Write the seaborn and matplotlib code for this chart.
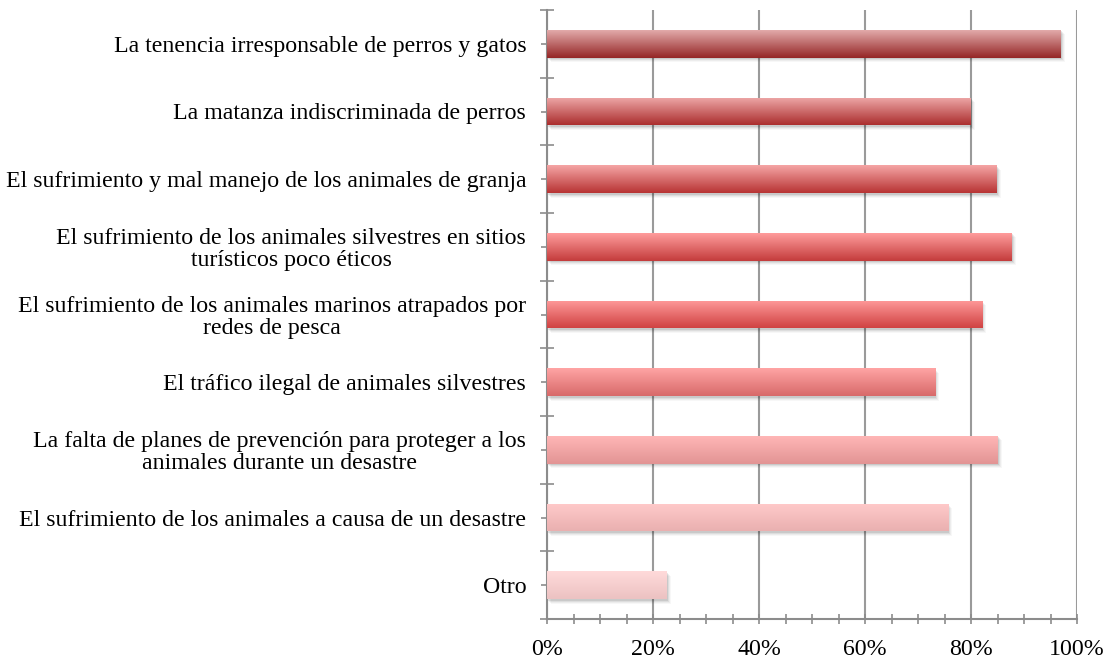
import numpy as np
import pandas as pd
import seaborn as sns
import matplotlib
matplotlib.use("Agg")
import matplotlib.pyplot as plt
from matplotlib import transforms
from matplotlib.colors import to_rgb
from matplotlib.ticker import MultipleLocator, FuncFormatter

# Data
categories = [
    "La tenencia irresponsable de perros y gatos",
    "La matanza indiscriminada de perros",
    "El sufrimiento y mal manejo de los animales de granja",
    "El sufrimiento de los animales silvestres en sitios\nturísticos poco éticos",
    "El sufrimiento de los animales marinos atrapados por\nredes de pesca",
    "El tráfico ilegal de animales silvestres",
    "La falta de planes de prevención para proteger a los\nanimales durante un desastre",
    "El sufrimiento de los animales a causa de un desastre",
    "Otro",
]
percentages = [96.9, 80.0, 84.9, 87.7, 82.1, 73.3, 85.0, 75.7, 22.6]

# Gradient colours for each bar (top edge, bottom edge)
top_colors = ["#e2aaaa", "#eea8a8", "#f5a5a5", "#ff9c9c", "#ff9a9a",
              "#ffa4a4", "#ffb6b6", "#ffcaca", "#ffdada"]
bottom_colors = ["#952626", "#ab2e2e", "#b83434", "#c43c3c", "#d04242",
                 "#d86a6a", "#e29494", "#eab0b0", "#ecc2c2"]

df = pd.DataFrame({"categoria": categories, "porcentaje": percentages})

sns.set_style("white")
plt.rcParams["font.family"] = ["Liberation Serif", "DejaVu Serif"]
label_size = 17.2

fig = plt.figure(figsize=(11.11, 6.64), dpi=100)
ax = fig.add_axes([547 / 1111, 45 / 664, 530 / 1111, 609 / 664])

sns.barplot(data=df, y="categoria", x="porcentaje", orient="h",
            width=0.41, color="white", ax=ax, zorder=3)

ax.set_xlim(0, 100)
ax.set_ylim(len(categories) - 0.5, -0.5)
xlim, ylim = ax.get_xlim(), ax.get_ylim()

# Replace the flat fill with a vertical gradient and a soft drop shadow
for i, patch in enumerate(list(ax.patches)):
    x0, y0 = patch.get_x(), patch.get_y()
    w, h = patch.get_width(), patch.get_height()
    for k, a in enumerate([0.09, 0.06, 0.045, 0.03]):
        off = transforms.offset_copy(ax.transData, fig=fig,
                                     x=(1.0 + k) * 0.72, y=-(1.5 + k) * 0.72,
                                     units="points")
        sh = plt.Rectangle((x0, y0), w, h, transform=off, facecolor="black",
                           alpha=a, edgecolor="none", zorder=2)
        ax.add_patch(sh)
    c_top = np.array(to_rgb(top_colors[i]))
    c_bot = np.array(to_rgb(bottom_colors[i]))
    t = np.linspace(0, 1, 64)[:, None]
    grad = (c_top[None, :] * (1 - t) + c_bot[None, :] * t)[:, None, :]
    im = ax.imshow(grad, extent=(x0, x0 + w, y0 + h, y0), origin="upper",
                   aspect="auto", interpolation="bilinear", zorder=4)
    im.set_clip_path(patch)
    patch.set_edgecolor("none")

ax.set_xlim(xlim)
ax.set_ylim(ylim)

# Axes styling
axis_gray = "#8c8c8c"
ax.xaxis.set_major_locator(MultipleLocator(20))
ax.xaxis.set_minor_locator(MultipleLocator(5))
ax.xaxis.set_major_formatter(FuncFormatter(lambda v, p: f"{v:.0f}%"))
ax.set_yticks(np.arange(len(categories)))
ax.set_yticklabels(categories)
ax.set_yticks(np.arange(len(categories) + 1) - 0.5, minor=True)
ax.grid(axis="x", which="major", color="#9a9a9a", linewidth=1.5, zorder=1)
ax.set_axisbelow(True)

for side in ["top", "right"]:
    ax.spines[side].set_visible(False)
for side in ["left", "bottom"]:
    ax.spines[side].set_color(axis_gray)
    ax.spines[side].set_linewidth(1.5)

ax.tick_params(axis="x", which="both", direction="inout", length=7,
               width=1.2, color=axis_gray, labelsize=label_size, pad=11,
               labelcolor="black", bottom=True)
ax.tick_params(axis="y", which="major", direction="inout", length=8,
               width=1.2, color=axis_gray, labelsize=label_size, pad=11,
               labelcolor="black", left=True)
ax.tick_params(axis="y", which="minor", direction="inout", length=10,
               width=1.2, color=axis_gray, left=True)
for lbl in ax.get_yticklabels():
    lbl.set_horizontalalignment("right")
    lbl.set_multialignment("center")
    lbl.set_linespacing(1.05)
ax.set_xlabel("")
ax.set_ylabel("")

fig.savefig("out.png", dpi=100)
